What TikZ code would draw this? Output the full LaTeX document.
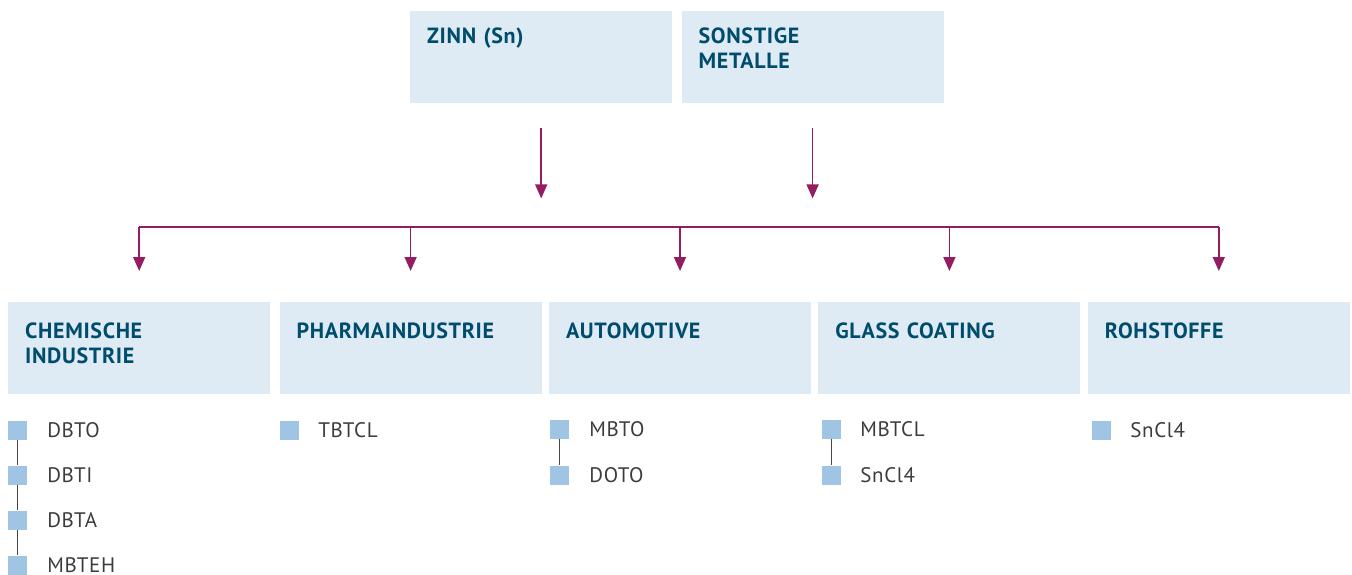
\documentclass[tikz,border=0pt]{standalone}
\usepackage{fontspec}
\setmainfont{PT Sans}
\usetikzlibrary{arrows.meta,positioning}

\begin{document}
\begin{tikzpicture}[x=1pt,y=-1pt]
    \definecolor{myboxblue}{RGB}{222,235,245}
    \definecolor{mytitle}{RGB}{0,76,108}
    \definecolor{mymagenta}{RGB}{148,28,97}
    \definecolor{mysquare}{RGB}{160,196,228}
    \definecolor{myitem}{RGB}{60,60,60}
    \definecolor{mylink}{RGB}{70,70,70}

    \tikzstyle{cat}=[fill=myboxblue,anchor=north west,text width=228pt,inner xsep=17pt,inner ysep=0pt,
        text height=36pt,text depth=56pt,align=left,text=mytitle,
        font=\bfseries\addfontfeatures{LetterSpace=3}\fontsize{22}{25}\selectfont]  % Kategorie-Kasten
    \tikzstyle{top}=[text height=32pt,text depth=60pt]  % obere Kaesten
    \tikzstyle{sq}=[fill=mysquare,minimum size=19pt,inner sep=0pt]  % Aufzaehlungsquadrat
    \tikzstyle{item}=[inner sep=0pt,text=myitem,font=\addfontfeatures{LetterSpace=3}\fontsize{21}{24}\selectfont]
    \tikzstyle{arr}=[draw=mymagenta,line width=1.5pt,-{Triangle[width=12pt,length=14pt]}]
    \tikzstyle{bus}=[draw=mymagenta,line width=1.5pt]
    \tikzstyle{link}=[draw=mylink,line width=1.3pt]

    \useasboundingbox (0,0) rectangle (1352,574);

    % obere Reihe
    \node[cat,top] (zinn) at (410,11) {ZINN (Sn)};
    \node[cat,top,right=9pt of zinn] (sonst) {SONSTIGE\\METALLE};

    % untere Reihe
    \node[cat] (chem) at (8,302) {CHEMISCHE\\INDUSTRIE};
    \node[cat,right=9pt of chem] (pharma) {PHARMAINDUSTRIE};
    \node[cat,right=7pt of pharma] (auto) {AUTOMOTIVE};
    \node[cat,right=7pt of auto] (glass) {GLASS COATING};
    \node[cat,right=7pt of glass] (roh) {ROHSTOFFE};

    % Pfeile
    \coordinate (b) at (0,227);
    \draw[arr] ([yshift=-25pt]zinn.south) -- ([yshift=-95pt]zinn.south);
    \draw[arr] ([yshift=-25pt]sonst.south) -- ([yshift=-95pt]sonst.south);
    \draw[bus] (chem.north |- b) -- (roh.north |- b);
    \foreach \n in {chem,pharma,auto,glass,roh}
        \draw[arr] (\n.north |- b) -- ([yshift=31pt]\n.north);

    % Listen
    \foreach \nm [count=\i] in {DBTO,DBTI,DBTA,MBTEH} {
        \node[sq] (c\i) at (17.5,{385+45*\i}) {};
        \node[item,right=20pt of c\i] (ct\i) {\nm};
    }
    \foreach \a/\b in {1/2,2/3,3/4}
        \draw[link] (c\a) -- (c\b);

    \node[sq] (p1) at (289.5,430) {};
    \node[item,right=19pt of p1] (pt1) {TBTCL};

    \node[sq] (a1) at (559.5,429) {};
    \node[item,right=20pt of a1] (at1) {MBTO};
    \node[sq] (a2) at (559.5,475) {};
    \node[item,right=20pt of a2] (at2) {DOTO};
    \draw[link] (a1) -- (a2);

    \node[sq] (g1) at (831.5,429) {};
    \node[item,right=19pt of g1] (gt1) {MBTCL};
    \node[sq] (g2) at (831.5,475) {};
    \node[item,right=19pt of g2] (gt2) {SnCl4};
    \draw[link] (g1) -- (g2);

    \node[sq] (r1) at (1101.5,430) {};
    \node[item,right=19pt of r1] (rt1) {SnCl4};
\end{tikzpicture}
\end{document}
